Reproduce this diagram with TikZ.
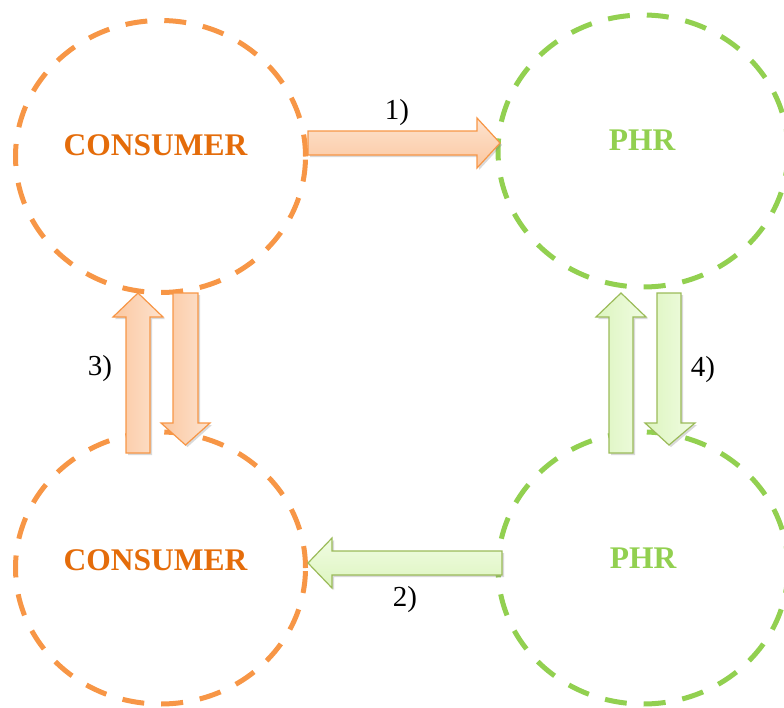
\documentclass[tikz,border=0pt]{standalone}
\usepackage{fontspec}
\setmainfont{Liberation Serif}
\usetikzlibrary{shapes.geometric,shadows}
\definecolor{orline}{HTML}{F79646}
\definecolor{ortext}{HTML}{E46C0A}
\definecolor{orlight}{HTML}{FDE3CF}
\definecolor{ormid}{HTML}{FBC7A0}
\definecolor{grline}{HTML}{92D050}
\definecolor{grborder}{HTML}{9BBB59}
\definecolor{grlight}{HTML}{F0FCE2}
\definecolor{grmid}{HTML}{DDF5BF}
\tikzset{
  ring/.style={ellipse, draw, line width=5pt, dash pattern=on 22pt off 17pt,
    minimum width=290pt, minimum height=272pt, inner sep=0pt},
  orring/.style={ring, draw=orline},
  grring/.style={ring, draw=grline},
  title/.style={font=\fontsize{31.5}{34}\selectfont\bfseries, inner sep=0pt},
  num/.style={font=\fontsize{29}{32}\selectfont, inner sep=0pt},
  arrowbase/.style={line width=1.2pt, line join=miter,
    drop shadow={shadow xshift=2pt, shadow yshift=-2pt, opacity=.3}},
  orarrowh/.style={arrowbase, draw=orline, top color=orlight, bottom color=ormid},
  orarrowv/.style={arrowbase, draw=orline, left color=ormid, right color=orlight},
  grarrowh/.style={arrowbase, draw=grborder, top color=grlight, bottom color=grmid},
  grarrowv/.style={arrowbase, draw=grborder, left color=grmid, right color=grlight},
}
\begin{document}
\begin{tikzpicture}[x=1pt,y=-1pt]
\useasboundingbox (0,0) rectangle (784,707);
\clip (0,0) rectangle (784,707);
% circles
\node[orring] (c1) at (160.5,156.5) {};
\node[grring] (p1) at (643,151) {};
\node[orring] (c2) at (160.5,568) {};
\node[grring] (p2) at (643,568) {};
% titles
\node[title, text=ortext] (t1) at (155.5,145) {CONSUMER};
\node[title, text=grline] (t2) at (642,140) {PHR};
\node[title, text=ortext] (t3) at (155.5,560) {CONSUMER};
\node[title, text=grline] (t4) at (643,558) {PHR};
% arrows
\draw[orarrowh] (308,131) -- (477,131) -- (477,118) -- (500,143) -- (477,168) -- (477,155) -- (308,155) -- cycle;
\draw[grarrowh] (502,551) -- (332,551) -- (332,538) -- (308,563) -- (332,588) -- (332,575) -- (502,575) -- cycle;
\draw[orarrowv] (126,453) -- (126,317) -- (113,317) -- (138,293) -- (163,317) -- (150,317) -- (150,453) -- cycle;
\draw[orarrowv] (173,293) -- (198,293) -- (198,423) -- (210,423) -- (185.5,445) -- (161,423) -- (173,423) -- cycle;
\draw[grarrowv] (609,453) -- (609,317) -- (596,317) -- (621,293) -- (646,317) -- (633,317) -- (633,453) -- cycle;
\draw[grarrowv] (657,293) -- (681,293) -- (681,423) -- (695,423) -- (669,445) -- (645,423) -- (657,423) -- cycle;
% labels
\node[num] (l1) at (397,113) {1)};
\node[num] (l2) at (405,600) {2)};
\node[num] (l3) at (100,369) {3)};
\node[num] (l4) at (703,370) {4)};
\end{tikzpicture}
\end{document}
